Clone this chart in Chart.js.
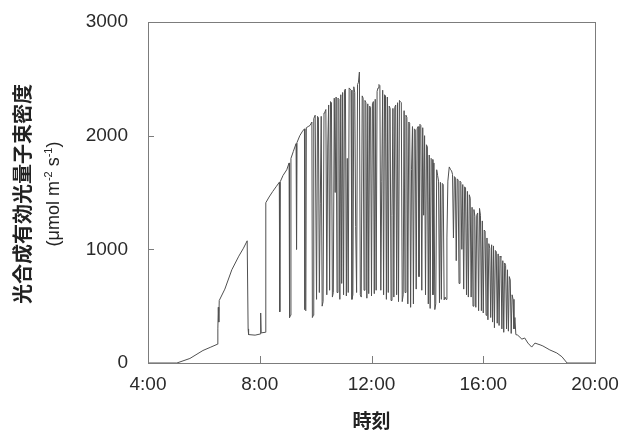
<!DOCTYPE html>
<html>
<head>
<meta charset="utf-8">
<script src="https://cdn.jsdelivr.net/npm/chart.js@4/dist/chart.umd.min.js"></script>
<style>
html,body{margin:0;padding:0;background:#fff;}
canvas{display:block;}
</style>
</head>
<body>
<canvas id="c" width="623" height="430"></canvas>
<script>
// ---- data ----
const xTickLabels = ["4:00", "8:00", "12:00", "16:00", "20:00"];
const yTickLabels = ["0", "1000", "2000", "3000"];
const yTitleLine1 = "光合成有効光量子束密度";
const yTitleUnit = ["(μmol m", "-2", " s", "-1", ")"];
const xTitle = "時刻";

const times = [
"4:00","5:02","5:30","5:58","6:15","6:29","6:30","6:31","6:32","6:33","6:45","7:00","7:15","7:25","7:33","7:35","7:36","7:50","8:01","8:02","8:03","8:12",
"8:13","8:20","8:28","8:35","8:42","8:43","8:44","8:50","8:58","9:03","9:04","9:06","9:07","9:12","9:18","9:19","9:20","9:26","9:32","9:36","9:37","9:39","9:40","9:44","9:48","9:52","9:53","9:55","9:56","9:59",
"10:00","10:02","10:04","10:06","10:08","10:10","10:12","10:14","10:16","10:18","10:20","10:22","10:24","10:26","10:28","10:30","10:32","10:34","10:36","10:38","10:40","10:42","10:44","10:46","10:48","10:50","10:52","10:54","10:56","10:58",
"11:00","11:02","11:04","11:06","11:08","11:10","11:12","11:14","11:16","11:18","11:20","11:22","11:24","11:26","11:28","11:30","11:32","11:34","11:36","11:38","11:40","11:42","11:44","11:46","11:48","11:50","11:52","11:54","11:56","11:58",
"12:00","12:02","12:04","12:06","12:08","12:10","12:12","12:14","12:16","12:18","12:20","12:22","12:24","12:26","12:28","12:30","12:32","12:34","12:36","12:38","12:40","12:42","12:44","12:46","12:48","12:50","12:52","12:54","12:56","12:58",
"13:00","13:02","13:04","13:06","13:08","13:10","13:12","13:14","13:16","13:18","13:20","13:22","13:24","13:26","13:28","13:30","13:32","13:34","13:36","13:38","13:40","13:42","13:44","13:46","13:48","13:50","13:52","13:54","13:56","13:58",
"14:00","14:02","14:04","14:06","14:08","14:10","14:12","14:14","14:16","14:18","14:20","14:22","14:24","14:26","14:28","14:30","14:32","14:34","14:36","14:38","14:40","14:42","14:44","14:47","14:50","14:52","14:54","14:56","14:58",
"15:00","15:02","15:04","15:06","15:08","15:10","15:12","15:14","15:16","15:18","15:20","15:22","15:24","15:26","15:28","15:30","15:32","15:34","15:36","15:38","15:40","15:42","15:44","15:46","15:48","15:50","15:52","15:54","15:56","15:58",
"16:00","16:02","16:04","16:06","16:08","16:10","16:12","16:14","16:16","16:18","16:20","16:22","16:24","16:26","16:28","16:30","16:32","16:34","16:36","16:38","16:40","16:42","16:44","16:46","16:48","16:50","16:52","16:54","16:56","16:58",
"17:00","17:02","17:04","17:06","17:08","17:10","17:14","17:23","17:29","17:36","17:44","17:51","18:02","18:08","18:23","18:38","18:49","19:00","20:00"
];
const ppfd = [
0,0,40,110,140,165,300,490,360,550,650,820,940,1010,1075,300,250,245,255,440,265,270,
1410,1460,1510,1550,1590,450,1595,1650,1700,1760,400,420,1800,1860,1930,1000,1940,2000,2040,2060,470,460,2070,2080,2090,2120,400,420,2150,2180,
2180,560,2170,2160,620,1400,2170,500,540,2200,2210,2230,600,1900,2270,640,2300,2290,580,620,2330,1500,2340,620,2330,2320,560,2360,700,2380,
600,2400,2410,590,1800,620,2420,2410,2400,560,600,2430,2380,1200,620,2450,2470,2560,600,580,2350,2330,640,2310,2290,570,2280,610,2260,2250,
590,2280,2300,610,2320,640,2390,2420,2450,2440,640,1600,2400,600,2360,2350,560,2340,620,2260,2240,550,1300,2240,580,2250,2270,600,2290,540,
2310,2300,2290,540,600,2220,620,2180,2160,520,2120,2110,490,1700,2080,520,2060,2050,650,2060,2080,760,2100,2090,640,2070,1300,2000,600,1920,
1900,520,1830,480,1800,1790,600,1760,470,520,1700,1650,1600,530,1590,560,1580,1570,555,580,560,1100,1600,1725,1700,1690,1660,1100,1640,
1630,900,1620,1610,700,1600,1590,1000,1570,650,1550,1540,600,1510,580,1480,1450,580,1370,500,1350,1290,490,1300,1320,460,1360,1300,460,1250,
440,1170,1160,420,1100,380,1050,1010,400,1040,360,1030,310,990,980,350,960,330,940,930,300,900,270,880,860,300,820,280,760,730,
260,600,560,300,400,250,245,210,220,175,140,175,160,150,115,88,55,0,0
];

function toMin(s){ const p = s.split(":"); return (+p[0])*60 + (+p[1]); }
const points = times.map((t, i) => ({ x: toMin(t), y: ppfd[i] }));

const latin = '"Liberation Sans", Arial, sans-serif';
const cjk = '"Noto Sans CJK JP", sans-serif';

const framePlugin = {
  id: 'frame',
  afterDraw(chart) {
    const ctx = chart.ctx, a = chart.chartArea;
    const xs = chart.scales.x, ys = chart.scales.y;
    ctx.save();
    ctx.strokeStyle = '#7c7c7c';
    ctx.lineWidth = 1;
    ctx.strokeRect(Math.round(a.left) + 0.5, Math.round(a.top) + 0.5, Math.round(a.right - a.left), Math.round(a.bottom - a.top));
    ctx.beginPath();
    ys.ticks.forEach(t => {
      const y = Math.round(ys.getPixelForValue(t.value)) + 0.5;
      ctx.moveTo(a.left, y); ctx.lineTo(a.left + 6, y);
    });
    xs.ticks.forEach(t => {
      const x = Math.round(xs.getPixelForValue(t.value)) + 0.5;
      ctx.moveTo(x, a.bottom); ctx.lineTo(x, a.bottom - 7);
    });
    ctx.stroke();

    // x title
    ctx.fillStyle = '#222';
    ctx.textAlign = 'center';
    ctx.textBaseline = 'middle';
    ctx.font = 'bold 19px ' + cjk;
    ctx.fillText(xTitle, (a.left + a.right) / 2, 421);

    // y title, two rotated lines
    const cy = 194;
    ctx.save();
    ctx.translate(22, cy);
    ctx.rotate(-Math.PI / 2);
    ctx.font = 'bold 20px ' + cjk;
    ctx.fillText(yTitleLine1, 0, 0);
    ctx.restore();

    ctx.save();
    ctx.translate(53, cy);
    ctx.rotate(-Math.PI / 2);
    const big = '18px ' + latin, small = '11px ' + latin;
    const parts = yTitleUnit.map((s, i) => ({ s, sup: i === 1 || i === 3 }));
    let total = 0;
    parts.forEach(p => { ctx.font = p.sup ? small : big; p.w = ctx.measureText(p.s).width; total += p.w; });
    let x = -total / 2;
    ctx.textAlign = 'left';
    ctx.textBaseline = 'alphabetic';
    parts.forEach(p => {
      ctx.font = p.sup ? small : big;
      ctx.fillText(p.s, x, p.sup ? -1 : 6);
      x += p.w;
    });
    ctx.restore();
    ctx.restore();
  }
};

new Chart(document.getElementById('c'), {
  type: 'line',
  data: {
    datasets: [{
      data: points,
      borderColor: '#505050',
      borderWidth: 1,
      pointRadius: 0,
      tension: 0,
      fill: false
    }]
  },
  options: {
    responsive: false,
    animation: false,
    parsing: false,
    layout: { padding: { top: 22, right: 28, left: 0, bottom: 0 } },
    plugins: { legend: { display: false }, tooltip: { enabled: false } },
    scales: {
      x: {
        type: 'linear', min: 240, max: 1200,
        grid: { display: false, drawTicks: false },
        border: { display: false },
        ticks: {
          stepSize: 240, autoSkip: false, maxRotation: 0, padding: 10,
          color: '#2a2a2a', font: { family: latin, size: 19 },
          callback: v => xTickLabels[Math.round((v - 240) / 240)]
        },
        afterFit: s => { s.height = 67; s.paddingLeft = 0; s.paddingRight = 0; }
      },
      y: {
        min: 0, max: 3000,
        grid: { display: false, drawTicks: false },
        border: { display: false },
        ticks: {
          stepSize: 1000, padding: 20,
          color: '#2a2a2a', font: { family: latin, size: 19 },
          callback: v => yTickLabels[Math.round(v / 1000)]
        },
        afterFit: s => { s.width = 148; s.paddingTop = 0; s.paddingBottom = 0; }
      }
    }
  },
  plugins: [framePlugin]
});
</script>
</body>
</html>
